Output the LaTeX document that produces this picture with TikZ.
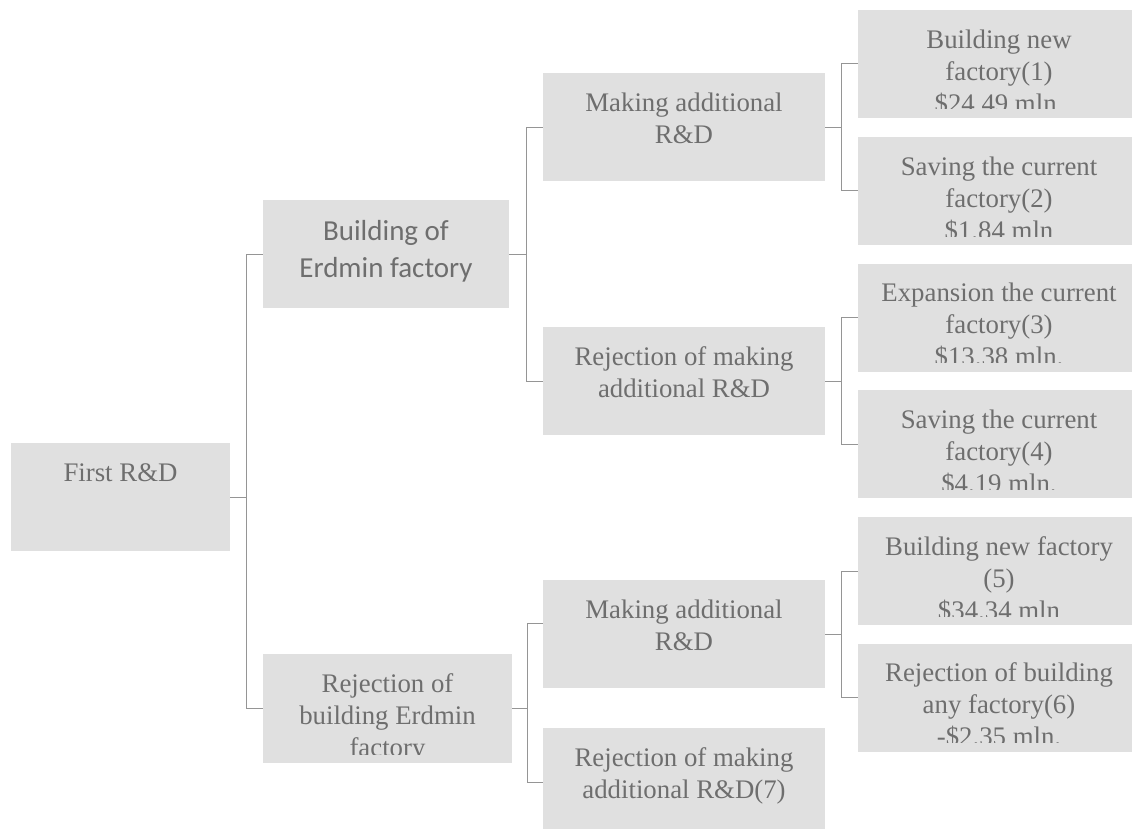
\documentclass[tikz,border=0pt]{standalone}
\usepackage{fontspec}
\setmainfont{Liberation Serif}
\newfontfamily\calibrifont{Carlito}

\definecolor{boxgray}{HTML}{E0E0E0}
\definecolor{textgray}{HTML}{6E6E6E}
\definecolor{linegray}{HTML}{959595}

% text of a box, clipped like the text frame
\newcommand{\boxtext}[3][txt]{%
	\begin{scope}
		\clip ([yshift=9pt]#2.south west) rectangle (#2.north east);
		\node[#1] (#2-text) at (#2.north) {\strut #3};
	\end{scope}}

\begin{document}
\begin{tikzpicture}[x=1pt,y=-1pt,
	box/.style={fill=boxgray,draw=none,inner sep=0,outer sep=0,minimum width=282pt,minimum height=108pt},
	txt/.style={anchor=north,yshift=-15.6pt,inner sep=0,align=center,text=textgray,font=\fontsize{26.8}{32}\selectfont},
	sanstxt/.style={anchor=north,yshift=-14pt,inner sep=0,align=center,text=textgray,font=\calibrifont\fontsize{29}{37}\selectfont},
	conn/.style={draw=linegray,line width=1pt}]
	\useasboundingbox (0,0) rectangle (1132,829);
	\node[box,minimum width=219pt] (root) at (120.5,497) {};
	\node[box,minimum width=246pt] (A) at (386,254) {};
	\node[box,minimum width=249pt,minimum height=109pt] (B) at (387.5,708.5) {};
	\node[box] (A1) at (684,127.5) {};
	\node[box] (A2) at (684,381) {};
	\node[box] (B1) at (684,634) {};
	\node[box] (B2) at (684,782) {};
	\node[box] (L1) at (999,64) {};
	\node[box] (L2) at (999,191) {};
	\node[box] (L3) at (999,317.5) {};
	\node[box] (L4) at (999,444) {};
	\node[box] (L5) at (999,571) {};
	\node[box] (L6) at (999,697.5) {};
	\boxtext{root}{First R\&D}
	\boxtext[sanstxt]{A}{Building of\\Erdmin factory}
	\boxtext{B}{Rejection of\\building Erdmin\\factory}
	\boxtext{A1}{Making additional\\R\&D}
	\boxtext{A2}{Rejection of making\\additional R\&D}
	\boxtext{B1}{Making additional\\R\&D}
	\boxtext{B2}{Rejection of making\\additional R\&D(7)}
	\boxtext{L1}{Building new\\factory(1)\\\$24.49 mln.}
	\boxtext{L2}{Saving the current\\factory(2)\\\$1.84 mln}
	\boxtext{L3}{Expansion the current\\factory(3)\\\$13.38 mln.}
	\boxtext{L4}{Saving the current\\factory(4)\\\$4.19 mln.}
	\boxtext{L5}{Building new factory\\(5)\\\$34.34 mln}
	\boxtext{L6}{Rejection of building\\any factory(6)\\-\$2.35 mln.}
	\draw[conn] (root.east) -- ++(16.5,0) |- (A.west);
	\draw[conn] (root.east) -- ++(16.5,0) |- (B.west);
	\draw[conn] (A.east) -- ++(17.5,0) |- (A1.west);
	\draw[conn] (A.east) -- ++(17.5,0) |- (A2.west);
	\draw[conn] (B.east) -- ++(15,0) |- ([yshift=11pt]B1.west);
	\draw[conn] (B.east) -- ++(15,0) |- (B2.west);
	\draw[conn] (A1.east) -- ++(16,0) |- (L1.west);
	\draw[conn] (A1.east) -- ++(16,0) |- (L2.west);
	\draw[conn] (A2.east) -- ++(16,0) |- (L3.west);
	\draw[conn] (A2.east) -- ++(16,0) |- (L4.west);
	\draw[conn] (B1.east) -- ++(16,0) |- (L5.west);
	\draw[conn] (B1.east) -- ++(16,0) |- (L6.west);
\end{tikzpicture}
\end{document}
